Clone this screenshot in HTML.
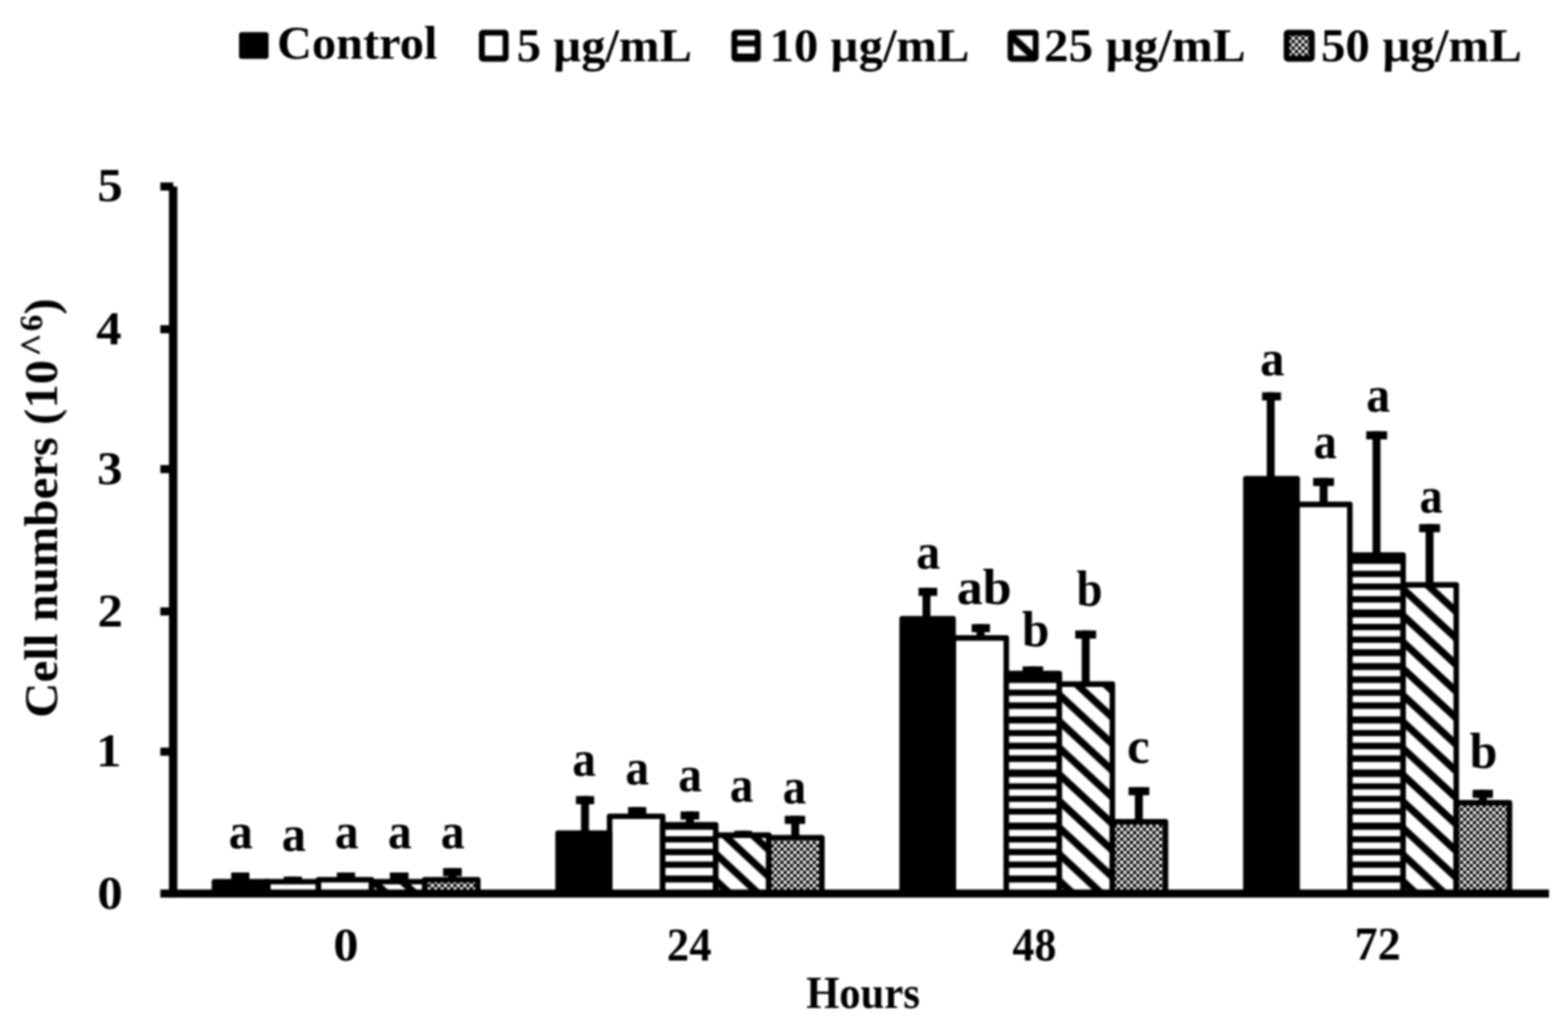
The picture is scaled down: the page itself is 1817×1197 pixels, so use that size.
<!DOCTYPE html>
<html lang="en"><head><meta charset="utf-8"><title>Cell numbers</title>
<style>html,body{margin:0;padding:0;background:#fff}body{width:1817px;height:1197px;overflow:hidden}svg{display:block}text{font-family:'Liberation Serif','Times New Roman',Times,serif;font-weight:bold;fill:#000}</style>
</head><body>
<svg width="1817" height="1197" viewBox="0 0 1817 1197">
<defs>
<pattern id="ph" patternUnits="userSpaceOnUse" x="0" y="-0.50" width="40" height="15.40"><rect width="40" height="15.40" fill="#fff"/><rect width="40" height="7.10" fill="#000"/></pattern>
<pattern id="phl" patternUnits="userSpaceOnUse" x="0" y="0.40" width="40" height="15.40"><rect width="40" height="15.40" fill="#fff"/><rect width="40" height="7.10" fill="#000"/></pattern>
<pattern id="pd" patternUnits="userSpaceOnUse" x="1628.20" y="807.80" width="33.14" height="30.80"><rect width="33.14" height="30.80" fill="#fff"/><path d="M-33.14 -67.30 L66.28 25.10 L66.28 36.50 L-33.14 -55.90 Z M-33.14 -36.50 L66.28 55.90 L66.28 67.30 L-33.14 -25.10 Z M-33.14 -5.70 L66.28 86.70 L66.28 98.10 L-33.14 5.70 Z" fill="#000"/></pattern>
<pattern id="pdl" patternUnits="userSpaceOnUse" x="1183.50" y="52.60" width="33.14" height="30.80"><rect width="33.14" height="30.80" fill="#fff"/><path d="M-33.14 -67.30 L66.28 25.10 L66.28 36.50 L-33.14 -55.90 Z M-33.14 -36.50 L66.28 55.90 L66.28 67.30 L-33.14 -25.10 Z M-33.14 -5.70 L66.28 86.70 L66.28 98.10 L-33.14 5.70 Z" fill="#000"/></pattern>
<pattern id="pc" patternUnits="userSpaceOnUse" x="0.5" y="0.3" width="7.50" height="7.67"><rect width="7.50" height="7.67" fill="#000"/><rect width="3.70" height="3.70" fill="#fff"/><rect x="3.75" y="3.83" width="3.70" height="3.70" fill="#fff"/></pattern>
<filter id="blur" x="0" y="0" width="100%" height="100%" filterUnits="objectBoundingBox" color-interpolation-filters="sRGB"><feGaussianBlur stdDeviation="1.00"/></filter>
</defs>
<rect width="1817" height="1197" fill="#fff"/>
<g filter="url(#blur)">
<rect width="1817" height="1197" fill="#fff"/>
<g id="legend">
<rect x="277.0" y="37.3" width="34.2" height="31.0" rx="3" fill="#000"/>
<text transform="translate(321.10 68.20) scale(1.0373 1)" font-size="54.00">Control</text>
<rect x="558.4" y="37.8" width="27.5" height="30.2" fill="#fff" stroke="#000" stroke-width="6.8" stroke-linejoin="round" rx="1.5"/>
<text transform="translate(598.64 71.10) scale(1.0256 1)" font-size="55.00">5 µg/mL</text>
<rect x="851.0" y="37.8" width="27.1" height="30.2" fill="url(#phl)" stroke="#000" stroke-width="6.8" stroke-linejoin="round" rx="1.5"/>
<text transform="translate(891.78 71.10) scale(1.0268 1)" font-size="55.00">10 µg/mL</text>
<rect x="1171.0" y="37.8" width="29.1" height="30.2" fill="url(#pdl)" stroke="#000" stroke-width="6.8" stroke-linejoin="round" rx="1.5"/>
<text transform="translate(1209.78 71.10) scale(1.0357 1)" font-size="55.00">25 µg/mL</text>
<rect x="1491.0" y="37.8" width="29.1" height="30.2" fill="url(#pc)" stroke="#000" stroke-width="6.8" stroke-linejoin="round" rx="1.5"/>
<text transform="translate(1530.73 71.10) scale(1.0315 1)" font-size="55.00">50 µg/mL</text>
</g>
<g id="bars" stroke="#000" stroke-linejoin="round" stroke-width="6.4">
<rect x="307.4" y="1021.6" width="61.6" height="13.8" fill="#fff"/>
<rect x="369.0" y="1019.4" width="61.6" height="16.0" fill="#000"/>
<rect x="372.2" y="1022.6" width="55.2" height="8.9" fill="#fff" stroke="none"/>
<rect x="430.6" y="1021.6" width="61.6" height="13.8" fill="url(#pd)"/>
<rect x="492.1" y="1019.4" width="61.6" height="16.0" fill="url(#pc)"/>
<path d="M245.3 1035.4 V1021.4 q0 -3 3 -3 H310.6 q3 0 3 3 V1035.4 Z" fill="#000" stroke="none"/>
<rect x="706.4" y="945.9" width="61.5" height="89.5" fill="#fff"/>
<rect x="767.9" y="955.7" width="61.5" height="79.7" fill="#000"/>
<rect x="771.1" y="961.5" width="55.1" height="7.5" fill="#fff" stroke="none"/>
<rect x="771.1" y="976.2" width="55.1" height="7.4" fill="#fff" stroke="none"/>
<rect x="771.1" y="991.0" width="55.1" height="7.3" fill="#fff" stroke="none"/>
<rect x="771.1" y="1005.6" width="55.1" height="8.9" fill="#fff" stroke="none"/>
<rect x="771.1" y="1022.6" width="55.1" height="8.9" fill="#fff" stroke="none"/>
<rect x="829.4" y="967.8" width="61.5" height="67.6" fill="url(#pd)"/>
<rect x="890.9" y="970.6" width="61.5" height="64.8" fill="url(#pc)"/>
<path d="M643.5 1035.4 V965.2 q0 -3 3 -3 H706.5 q3 0 3 3 V1035.4 Z" fill="#000" stroke="none"/>
<rect x="1104.7" y="739.3" width="61.4" height="296.1" fill="#fff"/>
<rect x="1166.1" y="780.5" width="61.5" height="254.9" fill="#000"/>
<rect x="1169.3" y="791.4" width="55.1" height="7.7" fill="#fff" stroke="none"/>
<rect x="1169.3" y="806.3" width="55.1" height="7.6" fill="#fff" stroke="none"/>
<rect x="1169.3" y="821.5" width="55.1" height="8.7" fill="#fff" stroke="none"/>
<rect x="1169.3" y="838.3" width="55.1" height="7.6" fill="#fff" stroke="none"/>
<rect x="1169.3" y="853.0" width="55.1" height="7.6" fill="#fff" stroke="none"/>
<rect x="1169.3" y="868.2" width="55.1" height="7.1" fill="#fff" stroke="none"/>
<rect x="1169.3" y="882.9" width="55.1" height="8.7" fill="#fff" stroke="none"/>
<rect x="1169.3" y="900.4" width="55.1" height="7.3" fill="#fff" stroke="none"/>
<rect x="1169.3" y="914.7" width="55.1" height="7.5" fill="#fff" stroke="none"/>
<rect x="1169.3" y="929.2" width="55.1" height="7.6" fill="#fff" stroke="none"/>
<rect x="1169.3" y="943.9" width="55.1" height="9.3" fill="#fff" stroke="none"/>
<rect x="1169.3" y="961.5" width="55.1" height="7.5" fill="#fff" stroke="none"/>
<rect x="1169.3" y="976.2" width="55.1" height="7.4" fill="#fff" stroke="none"/>
<rect x="1169.3" y="991.0" width="55.1" height="7.3" fill="#fff" stroke="none"/>
<rect x="1169.3" y="1005.6" width="55.1" height="8.9" fill="#fff" stroke="none"/>
<rect x="1169.3" y="1022.6" width="55.1" height="8.9" fill="#fff" stroke="none"/>
<rect x="1227.5" y="792.8" width="61.5" height="242.6" fill="url(#pd)"/>
<rect x="1289.0" y="952.2" width="61.5" height="83.2" fill="url(#pc)"/>
<path d="M1042.2 1035.4 V716.8 q0 -3 3 -3 H1104.6 q3 0 3 3 V1035.4 Z" fill="#000" stroke="none"/>
<rect x="1502.6" y="584.5" width="61.6" height="450.9" fill="#fff"/>
<rect x="1564.2" y="643.2" width="61.7" height="392.2" fill="#000"/>
<rect x="1567.5" y="653.4" width="55.3" height="8.0" fill="#fff" stroke="none"/>
<rect x="1567.5" y="668.7" width="55.3" height="7.4" fill="#fff" stroke="none"/>
<rect x="1567.5" y="683.4" width="55.3" height="7.4" fill="#fff" stroke="none"/>
<rect x="1567.5" y="698.2" width="55.3" height="8.0" fill="#fff" stroke="none"/>
<rect x="1567.5" y="715.5" width="55.3" height="7.4" fill="#fff" stroke="none"/>
<rect x="1567.5" y="730.2" width="55.3" height="7.4" fill="#fff" stroke="none"/>
<rect x="1567.5" y="744.9" width="55.3" height="7.4" fill="#fff" stroke="none"/>
<rect x="1567.5" y="760.3" width="55.3" height="8.0" fill="#fff" stroke="none"/>
<rect x="1567.5" y="776.4" width="55.3" height="7.3" fill="#fff" stroke="none"/>
<rect x="1567.5" y="791.4" width="55.3" height="7.7" fill="#fff" stroke="none"/>
<rect x="1567.5" y="806.3" width="55.3" height="7.6" fill="#fff" stroke="none"/>
<rect x="1567.5" y="821.5" width="55.3" height="8.7" fill="#fff" stroke="none"/>
<rect x="1567.5" y="838.3" width="55.3" height="7.6" fill="#fff" stroke="none"/>
<rect x="1567.5" y="853.0" width="55.3" height="7.6" fill="#fff" stroke="none"/>
<rect x="1567.5" y="868.2" width="55.3" height="7.1" fill="#fff" stroke="none"/>
<rect x="1567.5" y="882.9" width="55.3" height="8.7" fill="#fff" stroke="none"/>
<rect x="1567.5" y="900.4" width="55.3" height="7.3" fill="#fff" stroke="none"/>
<rect x="1567.5" y="914.7" width="55.3" height="7.5" fill="#fff" stroke="none"/>
<rect x="1567.5" y="929.2" width="55.3" height="7.6" fill="#fff" stroke="none"/>
<rect x="1567.5" y="943.9" width="55.3" height="9.3" fill="#fff" stroke="none"/>
<rect x="1567.5" y="961.5" width="55.3" height="7.5" fill="#fff" stroke="none"/>
<rect x="1567.5" y="976.2" width="55.3" height="7.4" fill="#fff" stroke="none"/>
<rect x="1567.5" y="991.0" width="55.3" height="7.3" fill="#fff" stroke="none"/>
<rect x="1567.5" y="1005.6" width="55.3" height="8.9" fill="#fff" stroke="none"/>
<rect x="1567.5" y="1022.6" width="55.3" height="8.9" fill="#fff" stroke="none"/>
<rect x="1625.9" y="677.8" width="61.6" height="357.6" fill="url(#pd)"/>
<rect x="1687.5" y="930.3" width="61.7" height="105.1" fill="url(#pc)"/>
<path d="M1440.5 1035.4 V554.5 q0 -3 3 -3 H1503.3 q3 0 3 3 V1035.4 Z" fill="#000" stroke="none"/>
</g>
<g id="err" fill="#000">
<rect x="267.9" y="1011.0" width="21.1" height="9.4"/>
<rect x="273.4" y="1011.0" width="9.2" height="10.4"/>
<rect x="328.8" y="1015.8" width="21.1" height="5.8"/>
<rect x="334.8" y="1015.8" width="9.2" height="5.6"/>
<rect x="390.4" y="1011.0" width="21.1" height="8.4"/>
<rect x="396.4" y="1011.0" width="9.2" height="8.2"/>
<rect x="451.8" y="1011.0" width="21.6" height="9.4"/>
<rect x="458.0" y="1011.0" width="9.2" height="10.4"/>
<rect x="513.5" y="1005.9" width="21.6" height="9.4"/>
<rect x="519.7" y="1005.9" width="9.2" height="13.3"/>
<rect x="667.4" y="922.5" width="21.1" height="9.4"/>
<rect x="673.3" y="922.5" width="9.2" height="42.7"/>
<rect x="727.8" y="935.2" width="21.1" height="9.4"/>
<rect x="733.4" y="935.2" width="9.2" height="10.5"/>
<rect x="788.7" y="940.3" width="21.6" height="9.4"/>
<rect x="794.8" y="940.3" width="9.2" height="15.2"/>
<rect x="850.8" y="962.7" width="20.6" height="5.1"/>
<rect x="856.4" y="962.7" width="9.2" height="4.9"/>
<rect x="909.4" y="945.3" width="23.6" height="9.4"/>
<rect x="916.9" y="945.3" width="9.2" height="25.1"/>
<rect x="1064.4" y="681.1" width="21.6" height="9.4"/>
<rect x="1069.0" y="681.1" width="9.2" height="35.7"/>
<rect x="1126.0" y="723.2" width="21.2" height="9.4"/>
<rect x="1131.7" y="723.2" width="9.2" height="15.9"/>
<rect x="1185.0" y="772.2" width="23.8" height="8.3"/>
<rect x="1192.3" y="772.2" width="9.2" height="8.1"/>
<rect x="1246.0" y="730.6" width="24.2" height="9.4"/>
<rect x="1253.5" y="730.6" width="9.2" height="62.0"/>
<rect x="1307.8" y="912.1" width="24.0" height="9.4"/>
<rect x="1315.1" y="912.1" width="9.2" height="39.9"/>
<rect x="1462.5" y="454.6" width="21.9" height="9.4"/>
<rect x="1467.9" y="454.6" width="9.2" height="99.9"/>
<rect x="1521.7" y="553.8" width="24.1" height="9.4"/>
<rect x="1529.2" y="553.8" width="9.2" height="30.5"/>
<rect x="1583.2" y="499.7" width="24.2" height="9.4"/>
<rect x="1590.5" y="499.7" width="9.2" height="143.3"/>
<rect x="1644.5" y="607.3" width="24.2" height="9.4"/>
<rect x="1652.0" y="607.3" width="9.2" height="70.3"/>
<rect x="1706.5" y="915.2" width="23.5" height="9.4"/>
<rect x="1713.7" y="915.2" width="9.2" height="14.9"/>
</g>
<g id="letters">
<text transform="translate(264.98 983.20) scale(0.9355 1)" font-size="60.00">a</text>
<text transform="translate(326.38 985.90) scale(0.9355 1)" font-size="60.00">a</text>
<text transform="translate(388.00 983.20) scale(0.9208 1)" font-size="60.00">a</text>
<text transform="translate(449.40 983.20) scale(0.9208 1)" font-size="60.00">a</text>
<text transform="translate(510.80 983.20) scale(0.9245 1)" font-size="60.00">a</text>
<text transform="translate(663.33 899.00) scale(0.9098 1)" font-size="60.00">a</text>
<text transform="translate(724.72 908.90) scale(0.9134 1)" font-size="60.00">a</text>
<text transform="translate(786.12 916.90) scale(0.9134 1)" font-size="60.00">a</text>
<text transform="translate(845.63 928.80) scale(0.9098 1)" font-size="60.00">a</text>
<text transform="translate(907.03 931.10) scale(0.9098 1)" font-size="60.00">a</text>
<text transform="translate(1061.80 658.70) scale(0.9245 1)" font-size="60.00">a</text>
<text transform="translate(1108.74 700.10) scale(1.0300 1)" font-size="58.50">ab</text>
<text transform="translate(1184.29 749.10) scale(0.9763 1)" font-size="58.50">b</text>
<text transform="translate(1247.52 702.00) scale(0.9253 1)" font-size="58.50">b</text>
<text transform="translate(1306.03 884.30) scale(0.9870 1)" font-size="60.00">c</text>
<text transform="translate(1460.17 434.60) scale(0.9392 1)" font-size="60.00">a</text>
<text transform="translate(1522.35 530.60) scale(0.8950 1)" font-size="60.00">a</text>
<text transform="translate(1583.20 476.50) scale(0.9208 1)" font-size="60.00">a</text>
<text transform="translate(1644.95 594.20) scale(0.8950 1)" font-size="60.00">a</text>
<text transform="translate(1702.98 889.80) scale(0.9899 1)" font-size="58.50">b</text>
</g>
<g id="axes" fill="#000">
<rect x="195.8" y="216.1" width="9.7" height="824.0"/>
<rect x="185.8" y="1030.7" width="1609.2" height="9.4"/>
<rect x="185.8" y="866.3" width="15" height="9.4"/>
<rect x="185.8" y="703.8" width="15" height="9.4"/>
<rect x="185.8" y="538.9" width="15" height="9.4"/>
<rect x="185.8" y="376.8" width="15" height="9.4"/>
<rect x="185.8" y="211.4" width="15" height="9.4"/>
</g>
<g id="ylabels">
<text transform="translate(112.68 1052.70) scale(1.0800 1)" font-size="54.50">0</text>
<text transform="translate(111.26 888.30) scale(1.0800 1)" font-size="54.50">1</text>
<text transform="translate(112.97 725.80) scale(1.0800 1)" font-size="54.50">2</text>
<text transform="translate(112.53 560.90) scale(1.0800 1)" font-size="54.50">3</text>
<text transform="translate(111.50 398.80) scale(1.0800 1)" font-size="54.50">4</text>
<text transform="translate(112.68 233.40) scale(1.0800 1)" font-size="54.50">5</text>
</g>
<g id="xlabels">
<text transform="translate(386.31 1112.50) scale(1.0707 1)" font-size="54.50">0</text>
<text transform="translate(772.80 1112.50) scale(0.9487 1)" font-size="54.50">24</text>
<text transform="translate(1173.36 1112.50) scale(0.9338 1)" font-size="54.50">48</text>
<text transform="translate(1569.73 1112.30) scale(0.9786 1)" font-size="54.50">72</text>
</g>
<text transform="translate(934.13 1167.60) scale(0.9509 1)" font-size="52.00">Hours</text>
<text id="ytitle" transform="translate(65.60 831.63) rotate(-90) scale(1.0284 1)" font-size="55.00">Cell numbers (10<tspan font-size="46.00" x="406.63" dy="-10.90">^</tspan><tspan font-size="37.00" x="435.52" dy="-5.70">6</tspan><tspan font-size="55.00" x="454.28" dy="16.60">)</tspan></text>
</g>
</svg>
</body></html>
